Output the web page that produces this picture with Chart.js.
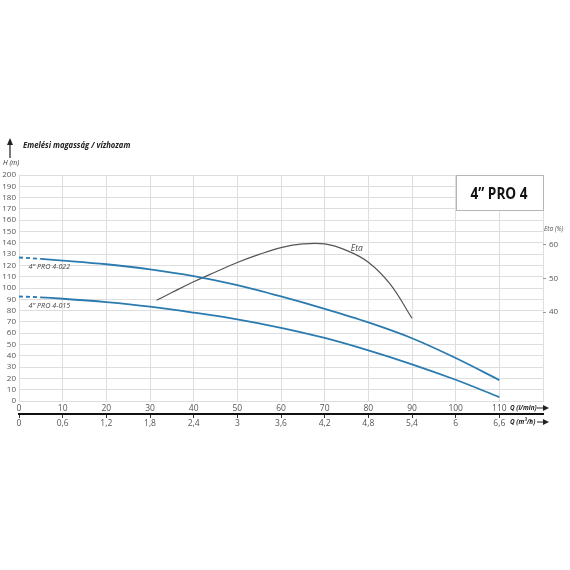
<!DOCTYPE html>
<html>
<head>
<meta charset="utf-8">
<script src="https://cdn.jsdelivr.net/npm/chart.js@4/dist/chart.umd.min.js"></script>
<style>
  body { margin: 0; background: #fff; }
  #chart { display: block; }
</style>
</head>
<body>
<canvas id="chart" width="570" height="570"></canvas>
<script>
// flow (l/min) and head (m)
const flowLpm = [0, 5, 10, 20, 30, 40, 50, 60, 70, 80, 90, 100, 110];
const head022 = [127, 125.8, 124.3, 121, 116.5, 110.5, 102.5, 92.5, 81.5, 69.5, 55.5, 38, 18.5];
const head015 = [92.5, 91.7, 90.5, 87.5, 83.5, 78.2, 72.3, 64.8, 55.8, 44.8, 32.5, 18.8, 3.5];

// efficiency curve (%)
const etaFlow = [31.5, 35, 40, 45, 50, 55, 60, 65, 70, 75, 80, 85, 90];
const etaValues = [43.5, 45.8, 49, 51.9, 54.7, 57.1, 59.1, 60.2, 60.2, 58.3, 54.8, 48.3, 38.2];

const etaTicks = [40, 50, 60];
const m3hLabels = ['0', '0,6', '1,2', '1,8', '2,4', '3', '3,6', '4,2', '4,8', '5,4', '6', '6,6'];

const BLUE = '#2b7bb0';
const GRID = '#dedede';
const TXT = '#555';
const FONT = "'Open Sans', 'Noto Sans', sans-serif";

function pts(xs, ys) {
  return xs.map((x, i) => ({ x: x, y: ys[i] }));
}

// narrow text helper (reference uses a condensed face)
function narrowText(c, txt, x, y, sx) {
  c.save();
  c.translate(x, y);
  c.scale(sx, 1);
  c.fillText(txt, 0, 0);
  c.restore();
}

const decor = {
  id: 'decor',
  afterDraw(chart) {
    const c = chart.ctx;
    const ys = chart.scales.y;
    const xs = chart.scales.x;
    c.save();
    c.fillStyle = '#222';
    // y title + arrow
    c.strokeStyle = '#222';
    c.lineWidth = 1.2;
    c.beginPath(); c.moveTo(10, 158); c.lineTo(10, 143); c.stroke();
    c.beginPath(); c.moveTo(7, 145); c.lineTo(10, 138); c.lineTo(13, 145); c.closePath(); c.fill();
    c.font = 'italic bold 9.5px ' + FONT;
    c.textBaseline = 'middle';
    c.textAlign = 'left';
    narrowText(c, 'Emelési magasság / vízhozam', 23, 145, 0.81);
    c.font = 'italic 8px ' + FONT;
    c.fillStyle = '#333';
    narrowText(c, 'H (m)', 3, 163, 0.85);

    // right axis title
    c.font = 'italic 7.5px ' + FONT;
    c.fillStyle = TXT;
    narrowText(c, 'Eta (%)', 544, 229, 0.85);

    // curve labels
    c.font = 'italic 8px ' + FONT;
    c.fillStyle = '#444';
    narrowText(c, '4” PRO 4-022', xs.getPixelForValue(2.2), ys.getPixelForValue(118.5), 0.9);
    narrowText(c, '4” PRO 4-015', xs.getPixelForValue(2.2), ys.getPixelForValue(84.5), 0.9);
    c.font = 'italic 8.5px ' + FONT;
    c.fillText('Eta', xs.getPixelForValue(76), ys.getPixelForValue(134.5));

    // name box
    c.fillStyle = '#fff';
    c.fillRect(456, 175, 87, 35);
    c.strokeStyle = '#b5b5b5';
    c.lineWidth = 1;
    c.strokeRect(456.5, 175.5, 87, 35);
    c.fillStyle = '#111';
    c.font = 'bold 16px ' + FONT;
    c.textAlign = 'center';
    narrowText(c, '4” PRO 4', 499, 194, 0.85);

    // Q axis titles with arrows
    c.textAlign = 'left';
    c.font = 'italic bold 7.5px ' + FONT;
    c.fillStyle = '#222';
    narrowText(c, 'Q (l/min)', 510, 408, 0.85);
    narrowText(c, 'Q (m³/h)', 510, 422, 0.85);
    [408, 422].forEach(y => {
      c.beginPath(); c.moveTo(537, y); c.lineTo(544, y); c.lineWidth = 1; c.strokeStyle = '#222'; c.stroke();
      c.beginPath(); c.moveTo(543, y - 3); c.lineTo(549, y); c.lineTo(543, y + 3); c.closePath(); c.fill();
    });
    c.restore();
  }
};

new Chart(document.getElementById('chart'), {
  type: 'line',
  data: {
    datasets: [
      {
        label: '4" PRO 4-022',
        data: pts(flowLpm, head022),
        borderColor: BLUE,
        borderWidth: 1.8,
        pointRadius: 0,
        cubicInterpolationMode: 'monotone',
        segment: { borderDash: ctx => ctx.p1.parsed.x <= 5 ? [4, 3] : undefined },
        yAxisID: 'y'
      },
      {
        label: '4" PRO 4-015',
        data: pts(flowLpm, head015),
        borderColor: BLUE,
        borderWidth: 1.8,
        pointRadius: 0,
        cubicInterpolationMode: 'monotone',
        segment: { borderDash: ctx => ctx.p1.parsed.x <= 5 ? [4, 3] : undefined },
        yAxisID: 'y'
      },
      {
        label: 'Eta',
        data: pts(etaFlow, etaValues),
        borderColor: '#555',
        borderWidth: 1.2,
        pointRadius: 0,
        tension: 0.4,
        yAxisID: 'y2'
      }
    ]
  },
  options: {
    responsive: false,
    animation: false,
    layout: { padding: { top: 175, bottom: 136, left: 0, right: 0 } },
    plugins: { legend: { display: false }, tooltip: { enabled: false } },
    scales: {
      x: {
        type: 'linear',
        position: 'bottom',
        weight: 0,
        min: 0, max: 120,
        ticks: {
          stepSize: 10,
          autoSkip: false,
          color: TXT,
          font: { family: FONT, size: 8.5 },
          padding: 2,
          maxRotation: 0,
          callback: v => v > 110 ? '' : String(v)
        },
        grid: { color: GRID, drawTicks: false },
        border: { color: GRID },
        afterFit: s => { s.height = 13; }
      },
      x2: {
        type: 'linear',
        position: 'bottom',
        weight: 1,
        min: 0, max: 120,
        afterBuildTicks: s => { s.ticks = s.ticks.filter(t => t.value <= 110); },
        ticks: {
          stepSize: 10,
          autoSkip: false,
          color: TXT,
          font: { family: FONT, size: 8.5 },
          padding: 0,
          maxRotation: 0,
          callback: (v, i) => m3hLabels[i] !== undefined ? m3hLabels[i] : ''
        },
        grid: { drawOnChartArea: false, drawTicks: true, tickLength: 4, tickColor: '#333', tickWidth: 1 },
        border: { display: true, color: '#111', width: 2 },
        afterFit: s => { s.height = 20; }
      },
      y: {
        position: 'left',
        min: 0, max: 200,
        ticks: {
          stepSize: 10,
          autoSkip: false,
          color: TXT,
          font: { family: FONT, size: 8 },
          padding: 3
        },
        grid: { color: GRID, drawTicks: false },
        border: { color: GRID },
        afterFit: s => { s.width = 19; }
      },
      y2: {
        position: 'right',
        min: 13.7, max: 80.6,
        afterBuildTicks: s => { s.ticks = etaTicks.map(v => ({ value: v })); },
        ticks: {
          color: TXT,
          font: { family: FONT, size: 8 },
          padding: 3
        },
        grid: { drawOnChartArea: false, drawTicks: true, tickLength: 3, tickColor: '#999' },
        border: { display: false },
        afterFit: s => { s.width = 27; }
      }
    }
  },
  plugins: [decor]
});
</script>
</body>
</html>
